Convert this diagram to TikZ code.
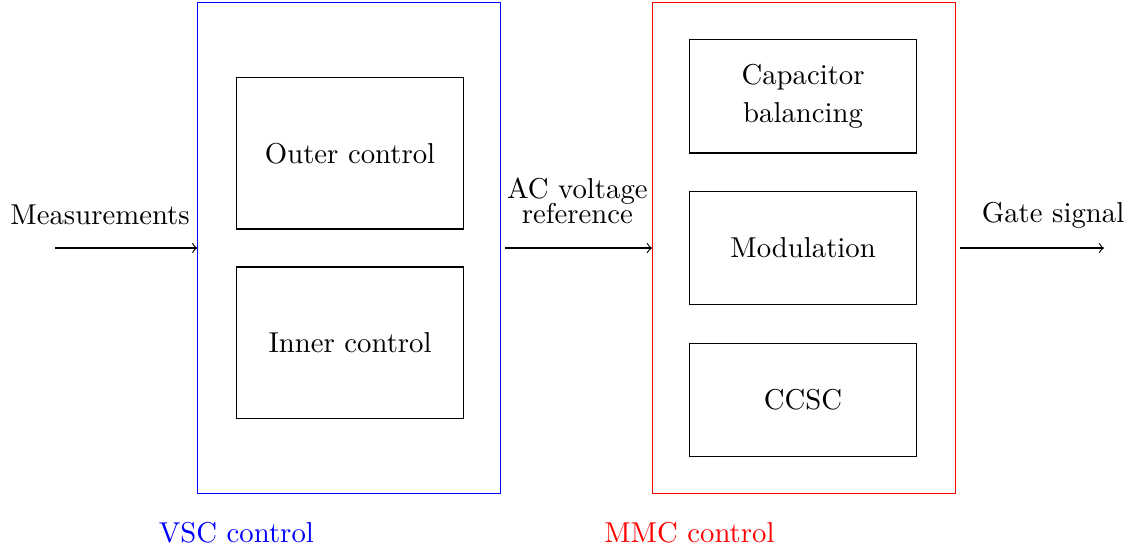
\documentclass[tikz,border=0pt]{standalone}
\usepackage{xcolor}
\usepackage{tikz}

\begin{document}
\begin{tikzpicture}[
    block/.style={draw, minimum width=2.78cm, align=center},
    frame/.style={draw, minimum width=3.7cm, minimum height=6cm}
  ]
  \useasboundingbox (0,-3.705) rectangle (13.854,3.033);

  % control frames
  \node[frame, draw=blue] (vsc) at (4.27,0) {};
  \node[frame, draw=red] (mmc) at (9.83,0) {};

  % VSC blocks
  \node[block, minimum height=1.85cm] (outer) at (4.28,1.157) {Outer control};
  \node[block, minimum height=1.85cm] (inner) at (4.28,-1.157) {Inner control};

  % MMC blocks
  \node[block, minimum height=1.383cm] (balance) at (9.82,1.854) {Capacitor\\[1pt]balancing};
  \node[block, minimum height=1.383cm] (modul) at (9.82,0) {Modulation};
  \node[block, minimum height=1.383cm] (ccsc) at (9.82,-1.854) {CCSC};

  % signals
  \coordinate (meas) at (0.673,0);
  \coordinate (gate) at (13.50,0);
  \draw[->] (meas) -- (vsc.west);
  \draw[->, shorten <=1.5pt] (vsc.east) -- (mmc.west);
  \draw[->, shorten <=1.5pt] (mmc.east) -- (gate);

  \node[anchor=base] (measlbl) at (1.224,0.294) {Measurements};
  \node[anchor=base, align=center] (reflbl) at (7.06,0.306) {AC voltage\\[-3.5pt]reference};
  \node[anchor=base] (gatelbl) at (12.876,0.318) {Gate signal};

  \node[anchor=base, text=blue] (vsclbl) at (2.89,-3.60) {VSC control};
  \node[anchor=base, text=red] (mmclbl) at (8.43,-3.60) {MMC control};
\end{tikzpicture}
\end{document}
